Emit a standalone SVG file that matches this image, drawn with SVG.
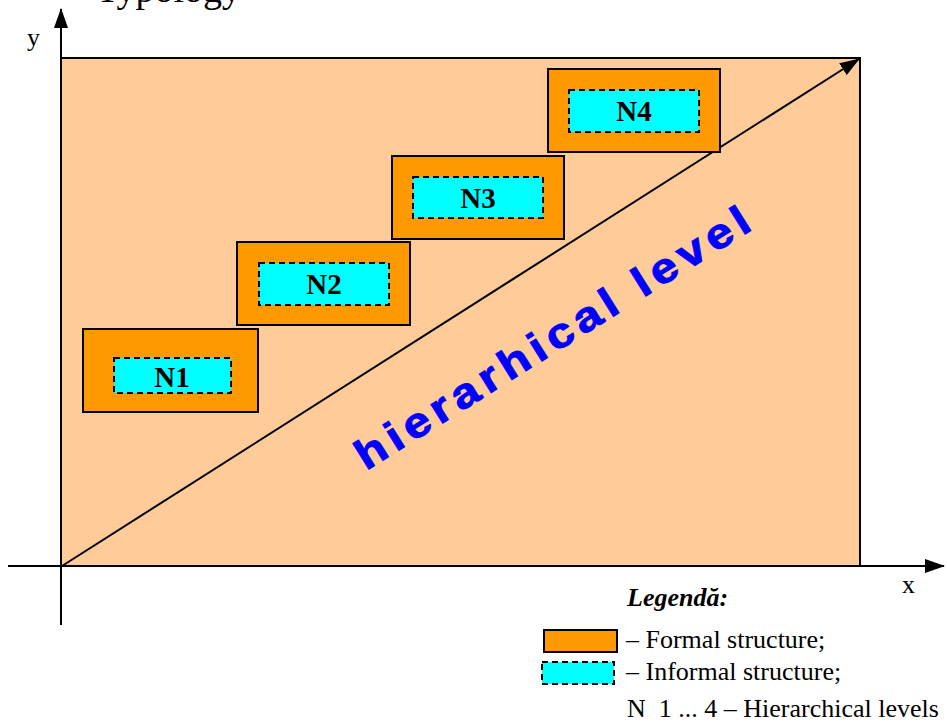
<svg xmlns="http://www.w3.org/2000/svg" width="947" height="727" viewBox="0 0 947 727">
<defs>
<style>
.ax{stroke:#000;stroke-width:2;fill:none}
.formal{fill:#FF9900;stroke:#000;stroke-width:2}
.informal{fill:#00FFFF;stroke:#000;stroke-width:2;stroke-dasharray:6 4}
.lbl{font-family:"Liberation Serif","Times New Roman",serif;font-weight:bold;font-size:29px;text-anchor:middle;fill:#000}
.t{font-family:"Liberation Serif","Times New Roman",serif;font-size:26px;fill:#000}
</style>
<marker id="ah" markerWidth="20" markerHeight="14" refX="19" refY="7" orient="auto" markerUnits="userSpaceOnUse">
<path d="M0,0 L20,7 L0,14 Z" fill="#000"/>
</marker>
</defs>
<rect width="947" height="727" fill="#fff"/>
<text class="t" x="96" y="2" style="font-size:38px">Typology</text>
<rect x="61" y="58" width="799" height="508" fill="#FFCC99" stroke="#000" stroke-width="2"/>
<g id="connectors">
<line class="ax" x1="61" y1="625" x2="61" y2="9" marker-end="url(#ah)"/>
<line class="ax" x1="8" y1="566" x2="944" y2="566" marker-end="url(#ah)"/>
<line class="ax" x1="62" y1="566" x2="859" y2="59" marker-end="url(#ah)"/>
</g>
<text class="t" x="27" y="46">y</text>
<text class="t" x="902" y="593">x</text>
<g id="N1">
<rect class="formal" x="83" y="329" width="175" height="83"/>
<rect class="informal" x="114" y="358" width="117" height="35"/>
<text class="lbl" x="172" y="387">N1</text>
</g>
<g id="N2">
<rect class="formal" x="237" y="242" width="173" height="83"/>
<rect class="informal" x="259" y="263" width="130" height="42"/>
<text class="lbl" x="324" y="294">N2</text>
</g>
<g id="N3">
<rect class="formal" x="392" y="156" width="172" height="83"/>
<rect class="informal" x="413" y="177" width="130" height="41"/>
<text class="lbl" x="478" y="208">N3</text>
</g>
<g id="N4">
<rect class="formal" x="548" y="69" width="172" height="83"/>
<rect class="informal" x="569" y="90" width="130" height="42"/>
<text class="lbl" x="634" y="121">N4</text>
</g>
<text transform="translate(366,471) rotate(-32) scale(1.15,1)" font-family="'Liberation Sans',Arial,sans-serif" font-weight="bold" font-size="42" letter-spacing="5" fill="#0000FF" stroke="#0000FF" stroke-width="1">hierarhical level</text>
<g id="legend">
<text class="t" x="627" y="606" font-weight="bold" font-style="italic">Legendă:</text>
<rect class="formal" x="544" y="630" width="73" height="22"/>
<text class="t" x="626" y="648">– Formal structure;</text>
<rect class="informal" x="542" y="662" width="72" height="22"/>
<text class="t" x="626" y="680">– Informal structure;</text>
<text class="t" x="627" y="717" xml:space="preserve">N  1 ... 4 – Hierarchical levels</text>
</g>
</svg>
